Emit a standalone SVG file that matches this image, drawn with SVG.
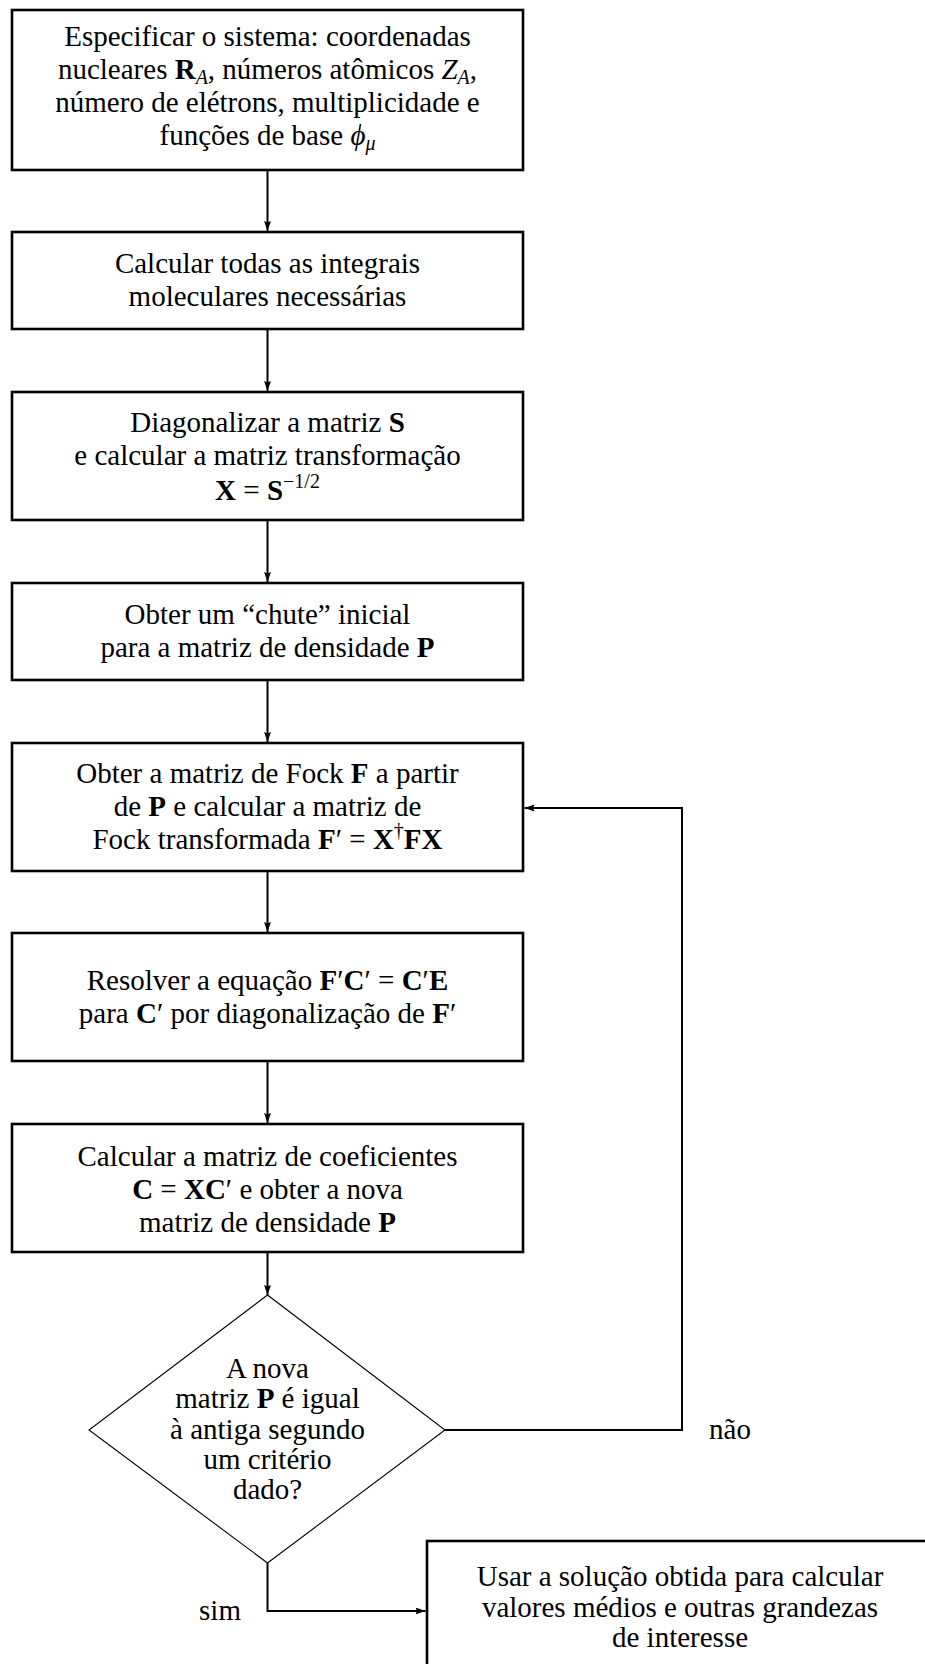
<svg xmlns="http://www.w3.org/2000/svg" width="925" height="1664" viewBox="0 0 925 1664">
<style>
text{font-family:"Liberation Serif","Times New Roman",serif;font-size:29px;fill:#000;text-anchor:middle}
.box{fill:#fff;stroke:#000;stroke-width:2.6}
.dia{fill:#fff;stroke:#000;stroke-width:1.1}
.con{fill:none;stroke:#000;stroke-width:2}
.b{font-weight:bold}
.i{font-style:italic}
.s{font-size:20px}
</style>
<defs>
<marker id="arr" markerUnits="userSpaceOnUse" markerWidth="11" markerHeight="8" refX="10" refY="3.5" orient="auto">
<path d="M0,0 L10,3.5 L0,7 L1.5,3.5 z" fill="#000"/>
</marker>
</defs>
<rect width="925" height="1664" fill="#fff"/>
<g id="connectors">
<line class="con" x1="267.5" y1="170" x2="267.5" y2="231" marker-end="url(#arr)"/>
<line class="con" x1="267.5" y1="329" x2="267.5" y2="391" marker-end="url(#arr)"/>
<line class="con" x1="267.5" y1="520" x2="267.5" y2="582" marker-end="url(#arr)"/>
<line class="con" x1="267.5" y1="680" x2="267.5" y2="742" marker-end="url(#arr)"/>
<line class="con" x1="267.5" y1="871" x2="267.5" y2="932" marker-end="url(#arr)"/>
<line class="con" x1="267.5" y1="1061" x2="267.5" y2="1123" marker-end="url(#arr)"/>
<line class="con" x1="267.5" y1="1252" x2="267.5" y2="1295" marker-end="url(#arr)"/>
<polyline class="con" points="445,1430 682,1430 682,808 524.5,808" marker-end="url(#arr)"/>
<polyline class="con" points="267.5,1563 267.5,1611 425.5,1611" marker-end="url(#arr)"/>
<text x="730" y="1439">não</text>
<text x="220" y="1620">sim</text>
</g>
<g id="n1">
<rect class="box" x="12" y="10" width="511" height="160"/>
<text x="267.5" y="46">Especificar o sistema: coordenadas</text>
<text x="267.5" y="79">nucleares <tspan class="b">R</tspan><tspan class="s i" dy="5">A</tspan><tspan dy="-5">, números atômicos </tspan><tspan class="i">Z</tspan><tspan class="s i" dy="5">A</tspan><tspan dy="-5">,</tspan></text>
<text x="267.5" y="112">número de elétrons, multiplicidade e</text>
<text x="267.5" y="145">funções de base <tspan class="i">ϕ</tspan><tspan class="s i" dy="5">μ</tspan></text>
</g>
<g id="n2">
<rect class="box" x="12" y="232" width="511" height="97"/>
<text x="267.5" y="273">Calcular todas as integrais</text>
<text x="267.5" y="306">moleculares necessárias</text>
</g>
<g id="n3">
<rect class="box" x="12" y="392" width="511" height="128"/>
<text x="267.5" y="432">Diagonalizar a matriz <tspan class="b">S</tspan></text>
<text x="267.5" y="465">e calcular a matriz transformação</text>
<text x="267.5" y="500"><tspan class="b">X</tspan> = <tspan class="b">S</tspan><tspan class="s" dy="-12">−1/2</tspan></text>
</g>
<g id="n4">
<rect class="box" x="12" y="583" width="511" height="97"/>
<text x="267.5" y="624">Obter um “chute” inicial</text>
<text x="267.5" y="657">para a matriz de densidade <tspan class="b">P</tspan></text>
</g>
<g id="n5">
<rect class="box" x="12" y="743" width="511" height="128"/>
<text x="267.5" y="783">Obter a matriz de Fock <tspan class="b">F</tspan> a partir</text>
<text x="267.5" y="816">de <tspan class="b">P</tspan> e calcular a matriz de</text>
<text x="267.5" y="849">Fock transformada <tspan class="b">F</tspan>′ = <tspan class="b">X</tspan><tspan class="s" dy="-12">†</tspan><tspan class="b" dy="12">FX</tspan></text>
</g>
<g id="n6">
<rect class="box" x="12" y="933" width="511" height="128"/>
<text x="267.5" y="990">Resolver a equação <tspan class="b">F</tspan>′<tspan class="b">C</tspan>′ = <tspan class="b">C</tspan>′<tspan class="b">E</tspan></text>
<text x="267.5" y="1023">para <tspan class="b">C</tspan>′ por diagonalização de <tspan class="b">F</tspan>′</text>
</g>
<g id="n7">
<rect class="box" x="12" y="1124" width="511" height="128"/>
<text x="267.5" y="1166">Calcular a matriz de coeficientes</text>
<text x="267.5" y="1199"><tspan class="b">C</tspan> = <tspan class="b">XC</tspan>′ e obter a nova</text>
<text x="267.5" y="1232">matriz de densidade <tspan class="b">P</tspan></text>
</g>
<g id="n8">
<polygon class="dia" points="267.5,1295 445,1430 267.5,1563 89,1430"/>
<text x="267.5" y="1378">A nova</text>
<text x="267.5" y="1408">matriz <tspan class="b">P</tspan> é igual</text>
<text x="267.5" y="1439">à antiga segundo</text>
<text x="267.5" y="1469">um critério</text>
<text x="267.5" y="1499">dado?</text>
</g>
<g id="n9">
<rect class="box" x="427" y="1541" width="511" height="130"/>
<text x="680" y="1586">Usar a solução obtida para calcular</text>
<text x="680" y="1617">valores médios e outras grandezas</text>
<text x="680" y="1647">de interesse</text>
</g>
</svg>
